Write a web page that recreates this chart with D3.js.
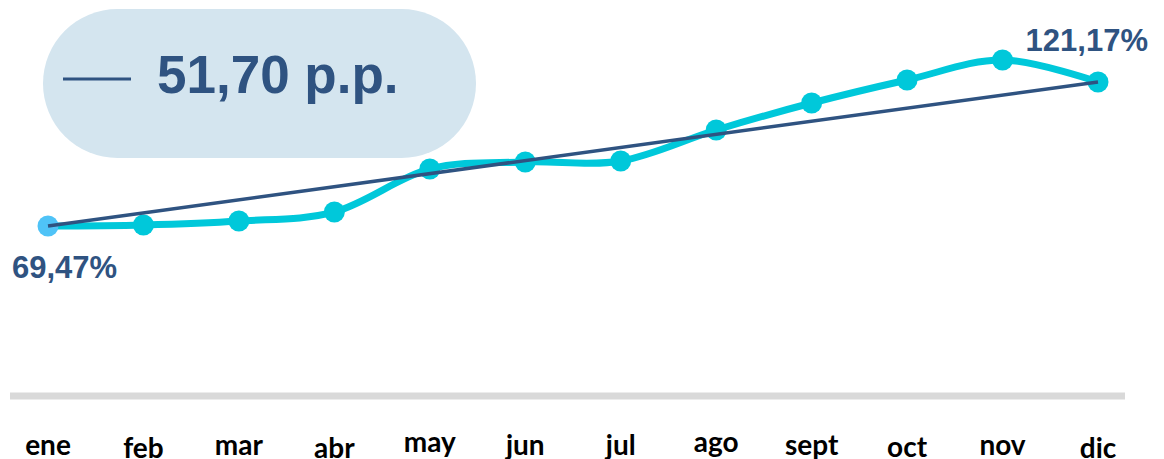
<!DOCTYPE html>
<html>
<head>
<meta charset="utf-8">
<script src="https://cdn.jsdelivr.net/npm/d3@7"></script>
<style>
  html, body { margin: 0; padding: 0; background: #ffffff; }
  #chart { width: 1164px; height: 459px; }
</style>
</head>
<body>
<div id="chart"></div>
<script>
const months = ["ene", "feb", "mar", "abr", "may", "jun", "jul", "ago", "sept", "oct", "nov", "dic"];
const values = [69.47, 69.83, 71.27, 74.5, 89.94, 92.45, 92.81, 103.94, 113.63, 121.89, 129.07, 121.17];
const firstLabel = "69,47%";
const lastLabel = "121,17%";
const changeLabel = "51,70 p.p.";

const width = 1164;
const height = 459;
const darkBlue = "#2f5381";
const cyan = "#00c8da";

const svg = d3.select("#chart")
  .append("svg")
  .attr("width", width)
  .attr("height", height);

const x = d3.scalePoint().domain(months).range([48, 1098]);
const y = d3.scaleLinear()
  .domain([values[0], values[values.length - 1]])
  .range([226, 82]);

// badge with the change in percentage points
const badge = svg.append("g");
badge.append("rect")
  .attr("x", 43)
  .attr("y", 9)
  .attr("width", 433)
  .attr("height", 149)
  .attr("rx", 74.5)
  .attr("fill", "#d4e5ef");
badge.append("line")
  .attr("x1", 63)
  .attr("x2", 131)
  .attr("y1", 79)
  .attr("y2", 79)
  .attr("stroke", darkBlue)
  .attr("stroke-width", 3);
badge.append("text")
  .attr("x", 157)
  .attr("y", 93)
  .attr("fill", darkBlue)
  .style("font-family", "'Liberation Sans', Arial, sans-serif")
  .style("font-weight", "bold")
  .style("font-size", "53px")
  .text(changeLabel);

// baseline strip
svg.append("line")
  .attr("x1", 10)
  .attr("x2", 1125)
  .attr("y1", 396)
  .attr("y2", 396)
  .attr("stroke", "#d9d9d9")
  .attr("stroke-width", 7);

// smooth series
const line = d3.line()
  .x((d, i) => x(months[i]))
  .y((d) => y(d))
  .curve(d3.curveCardinal.tension(0));

svg.append("path")
  .datum(values)
  .attr("fill", "none")
  .attr("stroke", cyan)
  .attr("stroke-width", 7)
  .attr("stroke-linecap", "round")
  .attr("d", line);

svg.selectAll("circle.pt")
  .data(values)
  .join("circle")
  .attr("class", "pt")
  .attr("cx", (d, i) => x(months[i]))
  .attr("cy", (d) => y(d))
  .attr("r", 10.5)
  .attr("fill", (d, i) => (i === 0 ? "#4fc3f7" : cyan));

// straight change line first -> last
svg.append("line")
  .attr("x1", x(months[0]))
  .attr("y1", y(values[0]))
  .attr("x2", x(months[months.length - 1]))
  .attr("y2", y(values[values.length - 1]))
  .attr("stroke", darkBlue)
  .attr("stroke-width", 3.5);

const valueFont = "'Liberation Sans', Arial, sans-serif";
svg.append("text")
  .attr("x", 12)
  .attr("y", 278)
  .attr("fill", darkBlue)
  .style("font-family", valueFont)
  .style("font-weight", "bold")
  .style("font-size", "31px")
  .text(firstLabel);
svg.append("text")
  .attr("x", 1148)
  .attr("y", 51)
  .attr("text-anchor", "end")
  .attr("fill", darkBlue)
  .style("font-family", valueFont)
  .style("font-weight", "bold")
  .style("font-size", "31px")
  .text(lastLabel);

// month labels, centred on their ink like the original
const labelFont = "bold 28px Lato";
const ctx = document.createElement("canvas").getContext("2d");
ctx.font = labelFont;
const labelCenter = 447;

svg.append("g")
  .selectAll("text")
  .data(months)
  .join("text")
  .attr("x", (d) => x(d))
  .attr("y", (d) => {
    const m = ctx.measureText(d);
    return labelCenter + (m.actualBoundingBoxAscent - m.actualBoundingBoxDescent) / 2;
  })
  .attr("text-anchor", "middle")
  .attr("fill", "#000000")
  .style("font-family", "Lato, sans-serif")
  .style("font-weight", "bold")
  .style("font-size", "28px")
  .text((d) => d);
</script>
</body>
</html>
